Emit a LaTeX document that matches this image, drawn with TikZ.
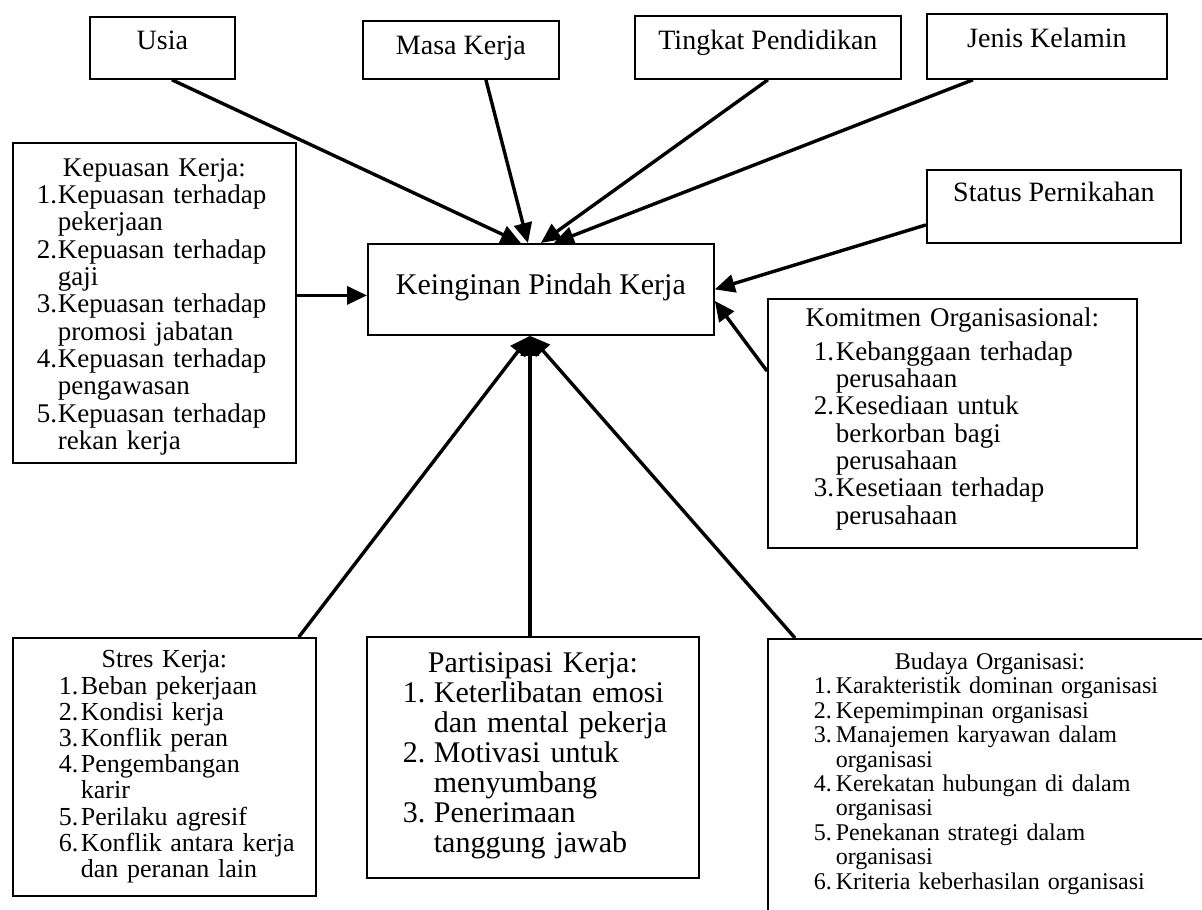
\documentclass[tikz,border=0pt]{standalone}
\usepackage{fontspec}
\setmainfont{Liberation Serif}
\usetikzlibrary{arrows.meta}
\hyphenpenalty=10000
\exhyphenpenalty=10000
\newlength\numwd
\newcommand\itm[2]{\par\hangindent=\numwd\hangafter=1\noindent\makebox[\numwd][l]{#1}#2}
\newcommand\topgap[1]{\rule{0pt}{#1}}
\newcommand\botgap[1]{\rule[-#1]{0pt}{#1}\par}
\begin{document}
\begin{tikzpicture}[x=0.5pt, y=-0.5pt,
    box/.style={draw, line width=0.9pt, inner sep=0pt, anchor=north west},
    lbl/.style={box, font=\fontsize{14}{16}\selectfont},
    lst/.style={box, inner xsep=5pt},
    arr/.style={line width=1.7pt, -{Triangle[length=10pt,width=9pt]}}]
  \useasboundingbox (0,0) rectangle (1202,909);
  \clip (0,0) rectangle (1202,909);
  % variabel demografi
  \node[lbl, minimum width=72.5pt, text height=16.4pt, text depth=14.6pt] (usia) at (89,16) {Usia};
  \node[lbl, minimum width=98pt, text height=16.9pt, text depth=12.1pt] (masa) at (362,20) {Masa Kerja};
  \node[lbl, minimum width=133pt, text height=16.9pt, text depth=14.6pt] (tingkat) at (634,15) {Tingkat Pendidikan};
  \node[lbl, minimum width=120pt, text height=16.9pt, text depth=15.6pt] (jenis) at (926,13) {Jenis Kelamin};
  \node[lbl, minimum width=127pt, text height=15.9pt, text depth=20.6pt] (status) at (926,169) {Status Pernikahan};
  % variabel terikat
  \node[lbl, font=\fontsize{15}{17}\selectfont, minimum width=173pt, text height=25.2pt, text depth=20.3pt] (main) at (367,243) {Keinginan Pindah Kerja};
  % variabel bebas
  \node[lst, inner xsep=12pt, text width=117.5pt, font=\fontsize{13.5}{13.66}\selectfont] (puas) at (12,142) {%
    \numwd=10.5pt
    {\centering\topgap{16.7pt}Kepuasan Kerja:\par}
    \itm{1.}{Kepuasan terhadap\break pekerjaan}
    \itm{2.}{Kepuasan terhadap\break gaji}
    \itm{3.}{Kepuasan terhadap\break promosi jabatan}
    \itm{4.}{Kepuasan terhadap\break pengawasan}
    \itm{5.}{Kepuasan terhadap\break rekan kerja\botgap{6.7pt}}};
  \node[lst, text width=174.5pt, font=\fontsize{13.5}{13.66}\selectfont] (komit) at (767,298) {%
    \raggedright\numwd=11pt
    {\centering\topgap{13.7pt}Komitmen Organisasional:\par}
    \vskip 3.3pt
    \leftskip=18pt
    \itm{1.}{Kebanggaan terhadap\break perusahaan}
    \itm{2.}{Kesediaan untuk\break berkorban bagi\break perusahaan}
    \itm{3.}{Kesetiaan terhadap\break perusahaan\botgap{12pt}}};
  \node[lst, text width=141.5pt, font=\fontsize{13}{13.1}\selectfont] (stres) at (12,637) {%
    \raggedright\numwd=11pt
    {\centering\topgap{15pt}Stres Kerja:\par}
    \leftskip=18pt
    \itm{1.}{Beban pekerjaan}
    \itm{2.}{Kondisi kerja}
    \itm{3.}{Konflik peran}
    \itm{4.}{Pengembangan\break karir}
    \itm{5.}{Perilaku agresif}
    \itm{6.}{Konflik antara kerja\break dan peranan lain\botgap{9.2pt}}};
  \node[lst, text width=156pt, font=\fontsize{15}{15}\selectfont] (partisipasi) at (366,636) {%
    \raggedright\numwd=15.5pt
    {\centering\topgap{17.8pt}Partisipasi Kerja:\par}
    \leftskip=13pt
    \itm{1.}{Keterlibatan emosi\break dan mental pekerja}
    \itm{2.}{Motivasi untuk\break menyumbang}
    \itm{3.}{Penerimaan\break tanggung jawab\botgap{12.7pt}}};
  \node[lst, text width=212pt, font=\fontsize{12}{12.2}\selectfont] (budaya) at (767,638) {%
    \raggedright\numwd=11pt
    {\centering\topgap{15.3pt}Budaya Organisasi:\par}
    \leftskip=18pt
    \itm{1.}{Karakteristik dominan organisasi}
    \itm{2.}{Kepemimpinan organisasi}
    \itm{3.}{Manajemen karyawan dalam\break organisasi}
    \itm{4.}{Kerekatan hubungan di dalam\break organisasi}
    \itm{5.}{Penekanan strategi dalam\break organisasi}
    \itm{6.}{Kriteria keberhasilan organisasi\botgap{30pt}}};
  % panah
  \coordinate (inK) at ([yshift=-3pt]main.west);
  \coordinate (inB) at ([xshift=-5.5pt]main.south);
  \draw[arr] ([xshift=4.75pt]usia.south) -- ([xshift=-10pt]main.north);
  \draw[arr] ([xshift=12.5pt]masa.south) -- ([xshift=-6.5pt]main.north);
  \draw[arr] (tingkat.south) -- (main.north);
  \draw[arr] ([xshift=-37pt]jenis.south) -- ([xshift=6.5pt]main.north);
  \draw[arr] ([yshift=-9.25pt]status.west) -- (main.east);
  \draw[arr] ([yshift=26.25pt]komit.west) -- ([yshift=-5.75pt]main.east);
  \draw[arr] (puas.east |- inK) -- (inK);
  \draw[arr] ([xshift=-9pt]stres.north east) -- (inB);
  \draw[arr] ([xshift=-1.5pt]partisipasi.north) -- (inB);
  \draw[arr] ([xshift=14pt]budaya.north west) -- (inB);
\end{tikzpicture}
\end{document}
